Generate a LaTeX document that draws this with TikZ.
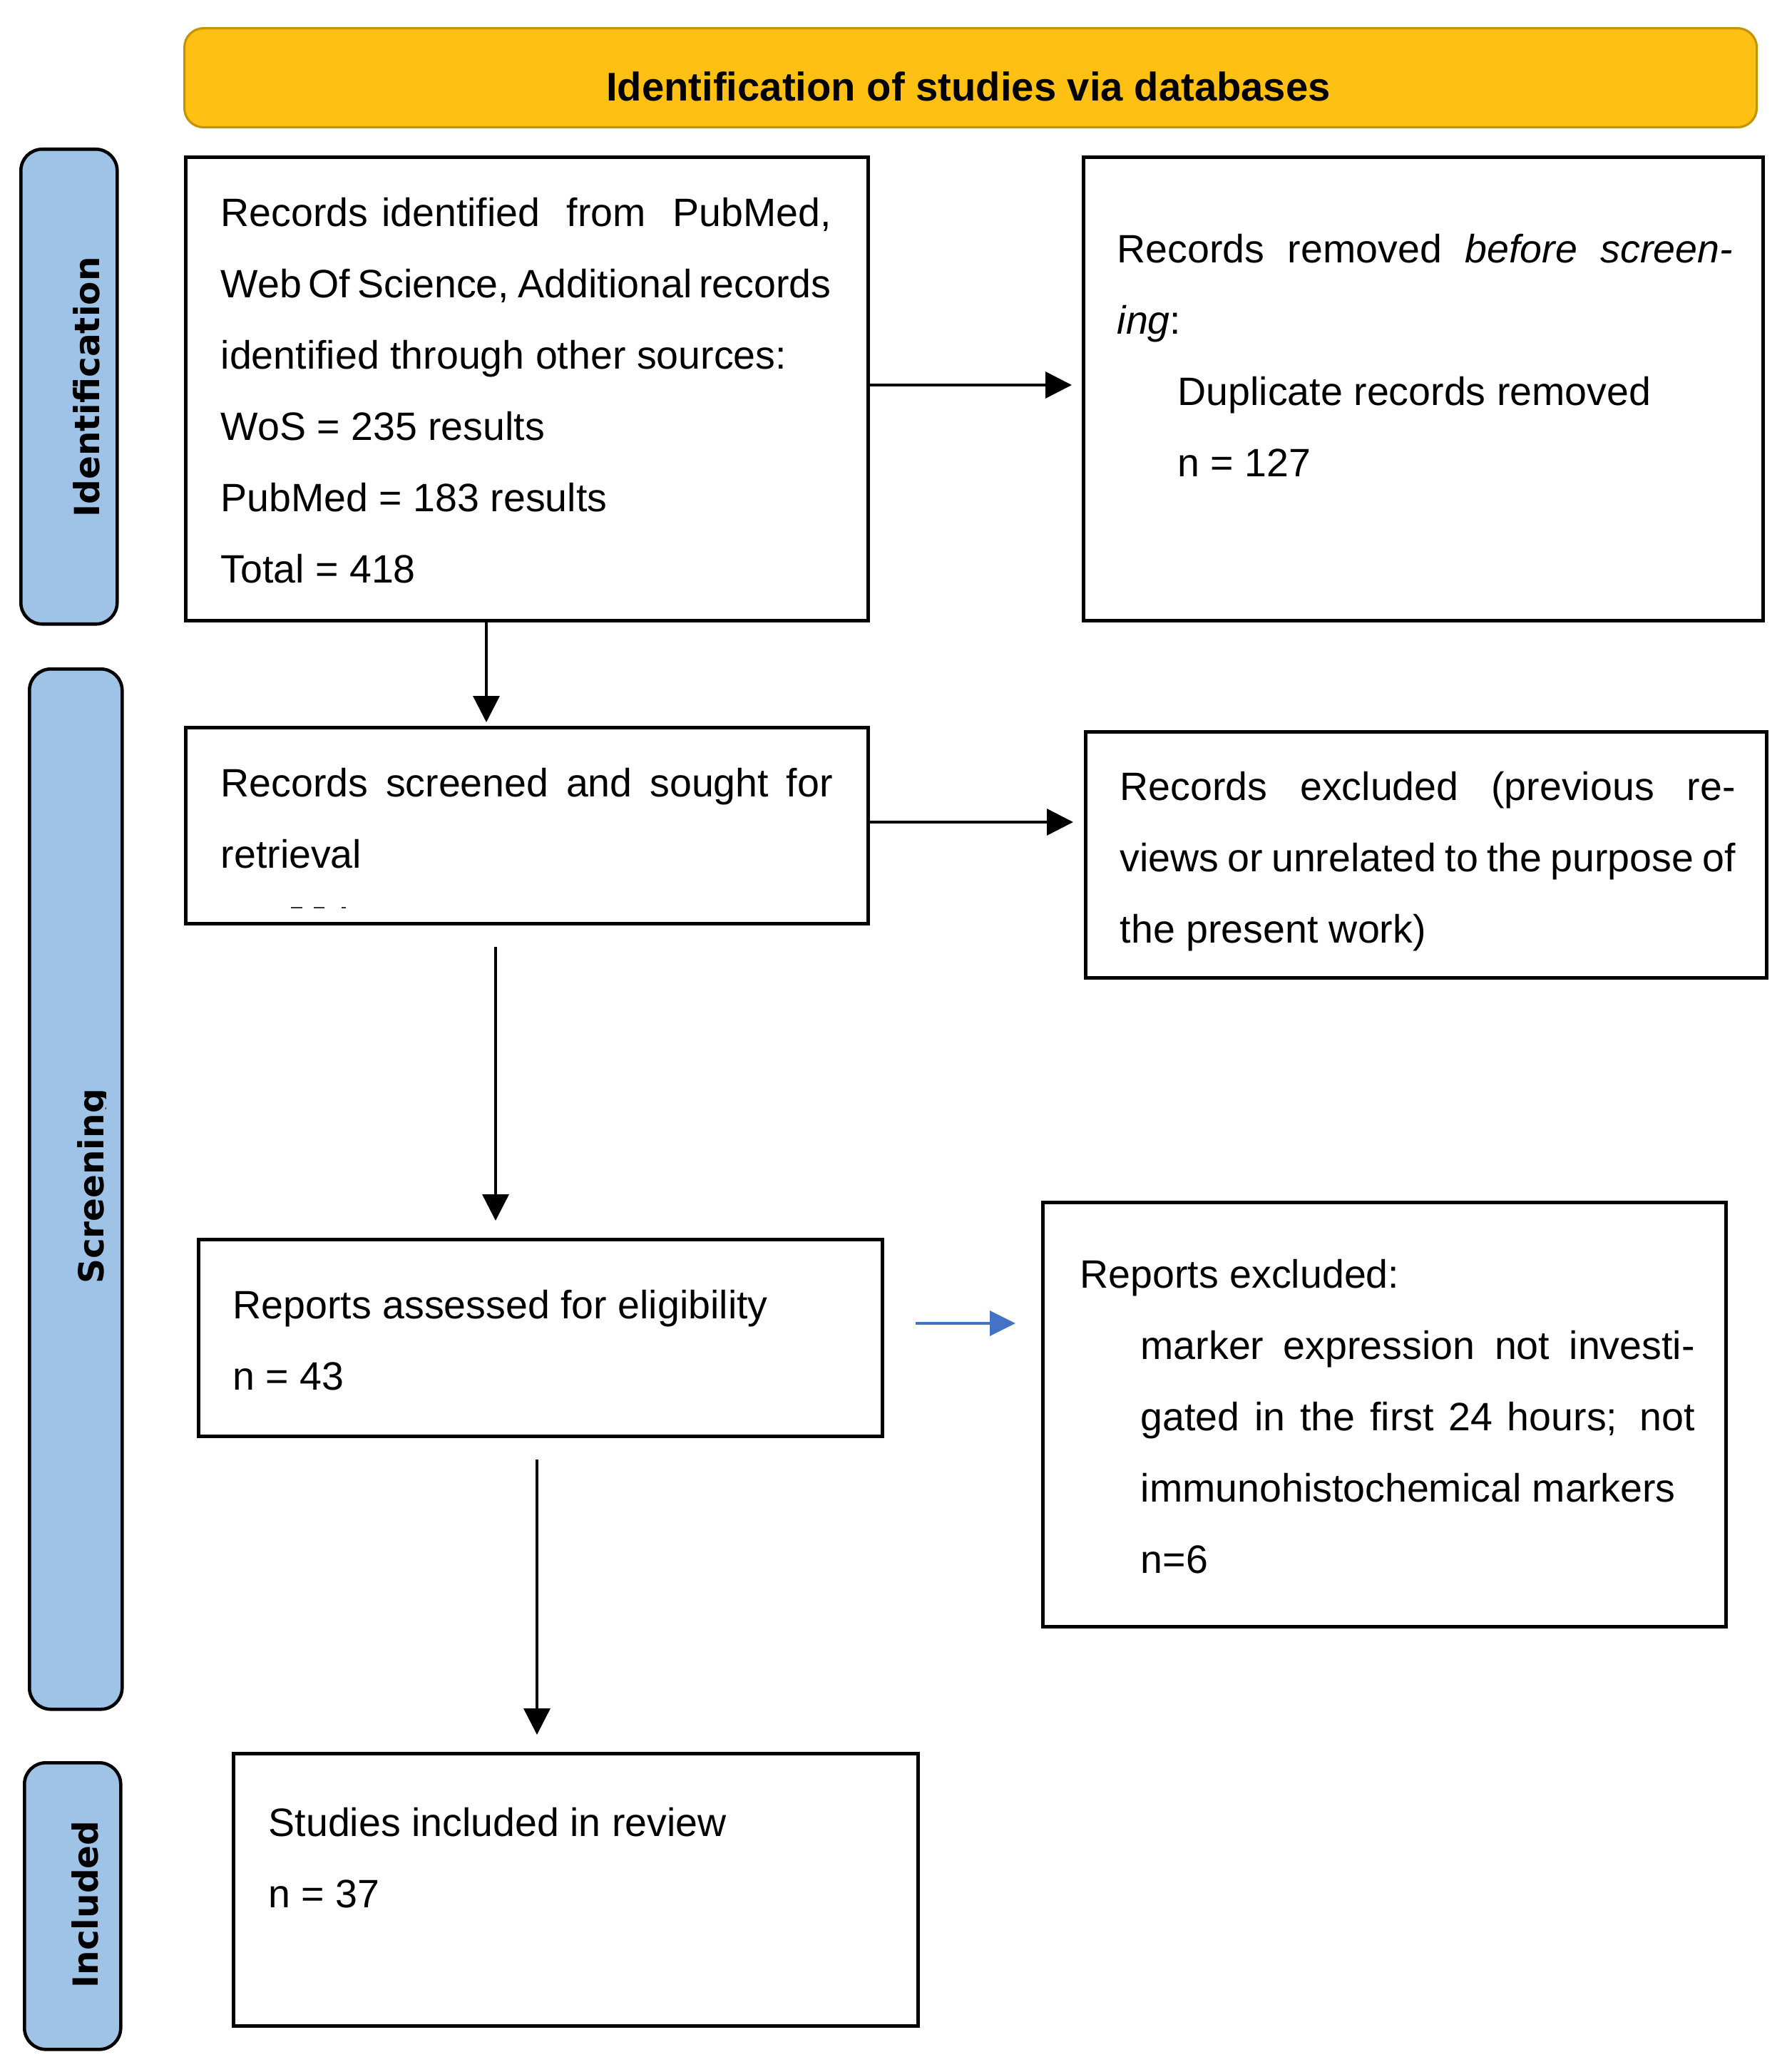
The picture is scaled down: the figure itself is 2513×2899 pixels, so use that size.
\documentclass[tikz,border=0pt]{standalone}
\usepackage{fontspec}
\setmainfont{Liberation Sans}
\newfontfamily\sidefont{DejaVu Sans}
\usetikzlibrary{arrows.meta}
\definecolor{hdrfill}{RGB}{254,192,18}
\definecolor{hdrline}{RGB}{196,148,0}
\definecolor{barfill}{RGB}{158,195,230}
\definecolor{bluearr}{RGB}{68,114,196}
\newcommand\jl[2]{\hbox to #1{\spaceskip=0pt plus 1fil\relax #2}}
\begin{document}
\begin{tikzpicture}[x=0.1mm,y=-0.1mm,
  box/.style={draw=black, line width=1.4pt, anchor=north west, inner sep=0pt, fill=white},
  body/.style={anchor=base west, inner sep=0pt, align=left, font=\fontsize{15.8pt}{28.4pt}\selectfont},
  bar/.style={draw=black, line width=1.3pt, fill=barfill, rounded corners=3mm, anchor=north west, inner sep=0pt},
  barlabel/.style={rotate=90, anchor=base, inner sep=0pt, font=\sidefont\bfseries\fontsize{13.8pt}{16pt}\selectfont},
  arr/.style={draw=black, line width=1pt, -{Triangle[length=3.7mm,width=3.7mm]}},
  bluearrow/.style={draw=bluearr, line width=1pt, -{Triangle[length=3.6mm,width=3.5mm]}},
]
\useasboundingbox (0,0) rectangle (2513,2899);

% header
\node[draw=hdrline, line width=0.9pt, fill=hdrfill, rounded corners=2.7mm, anchor=north west, inner sep=0pt,
      minimum width=220.5mm, minimum height=13.9mm] (hdr) at (257,38) {};
\node[anchor=base, inner sep=0pt, font=\bfseries\fontsize{16pt}{19pt}\selectfont] (hdrt) at (1358,142)
  {Identification of studies via databases};

% side bars
\node[bar, minimum width=13.5mm, minimum height=66.6mm] (bid) at (27,207) {};
\node[bar, minimum width=13.0mm, minimum height=145.9mm] (bsc) at (39,936) {};
\node[bar, minimum width=13.5mm, minimum height=40.2mm] (bin) at (32,2470) {};
\node[barlabel] (lid) at (139,543) {Identification};
\begin{scope}
  \clip (0,900) rectangle (148,2450);
  \node[barlabel] (lsc) at (145,1664) {Screening};
\end{scope}
\node[barlabel] (lin) at (137,2671) {Included};

% boxes
\node[box, minimum width=95.7mm, minimum height=65.0mm] (b1) at (258,218) {};
\node[box, minimum width=95.3mm, minimum height=65.0mm] (b2) at (1517,218) {};
\node[box, minimum width=95.7mm, minimum height=27.5mm] (b3) at (258,1018) {};
\node[box, minimum width=95.5mm, minimum height=34.5mm] (b4) at (1520,1024) {};
\node[box, minimum width=95.9mm, minimum height=27.6mm] (b5) at (276,1736) {};
\node[box, minimum width=95.8mm, minimum height=59.5mm] (b6) at (1460,1684) {};
\node[box, minimum width=96.0mm, minimum height=38.2mm] (b7) at (325,2457) {};

% texts (anchored at the baseline of their last line)
\node[body] (t1) at (309,817) {%
  \jl{85.6mm}{Records identified \ from \ PubMed,}\\
  \jl{85.6mm}{Web Of Science, Additional records}\\
  identified through other sources:\\
  WoS = 235 results\\
  PubMed = 183 results\\
  Total = 418};
\node[body] (t2) at (1566,668) {%
  \jl{86.3mm}{Records removed \textit{before screen-}}\\
  \textit{ing}:\\
  \hspace*{8.5mm}Duplicate records removed\\
  \hspace*{8.5mm}n = 127};
\node[body] (t3) at (309,1217) {%
  \jl{85.8mm}{Records screened and sought for}\\
  retrieval};
\draw[line width=0.25mm, black!80] (408,1273) -- (424,1273) (440,1273) -- (455,1273) (479,1273) -- (485,1273);
\node[body] (t4) at (1570,1322) {%
  \jl{86.3mm}{Records excluded (previous re-}\\
  \jl{86.3mm}{views or unrelated to the purpose of}\\
  the present work)};
\node[body] (t5) at (326,1949) {%
  Reports assessed for eligibility\\
  n = 43};
\node[body] (t6) at (1514,2206) {%
  Reports excluded:\\
  \hspace*{8.5mm}\jl{77.7mm}{marker expression not investi-}\\
  \hspace*{8.5mm}\jl{77.7mm}{gated in the first 24 hours; not}\\
  \hspace*{8.5mm}immunohistochemical markers\\
  \hspace*{8.5mm}n=6};
\node[body] (t7) at (376,2675) {%
  Studies included in review\\
  n = 37};

% connectors
\coordinate (ya) at (0,540);
\coordinate (yb) at (0,1153);
\coordinate (yc) at (0,1856);
\coordinate (xa) at (682,0);
\coordinate (xb) at (695,0);
\coordinate (xc) at (753,0);
\draw[arr, shorten >=1.4mm] (b1.east |- ya) -- (b2.west |- ya);
\draw[arr, shorten >=0.5mm] (b1.south -| xa) -- (b3.north -| xa);
\draw[arr, shorten >=1.5mm] (b3.east |- yb) -- (b4.west |- yb);
\draw[arr, shorten <=3.0mm, shorten >=2.4mm] (b3.south -| xb) -- (b5.north -| xb);
\draw[bluearrow, shorten <=4.4mm, shorten >=3.6mm] (b5.east |- yc) -- (b6.west |- yc);
\draw[arr, shorten <=3.0mm, shorten >=2.4mm] (b5.south -| xc) -- (b7.north -| xc);
\end{tikzpicture}
\end{document}
